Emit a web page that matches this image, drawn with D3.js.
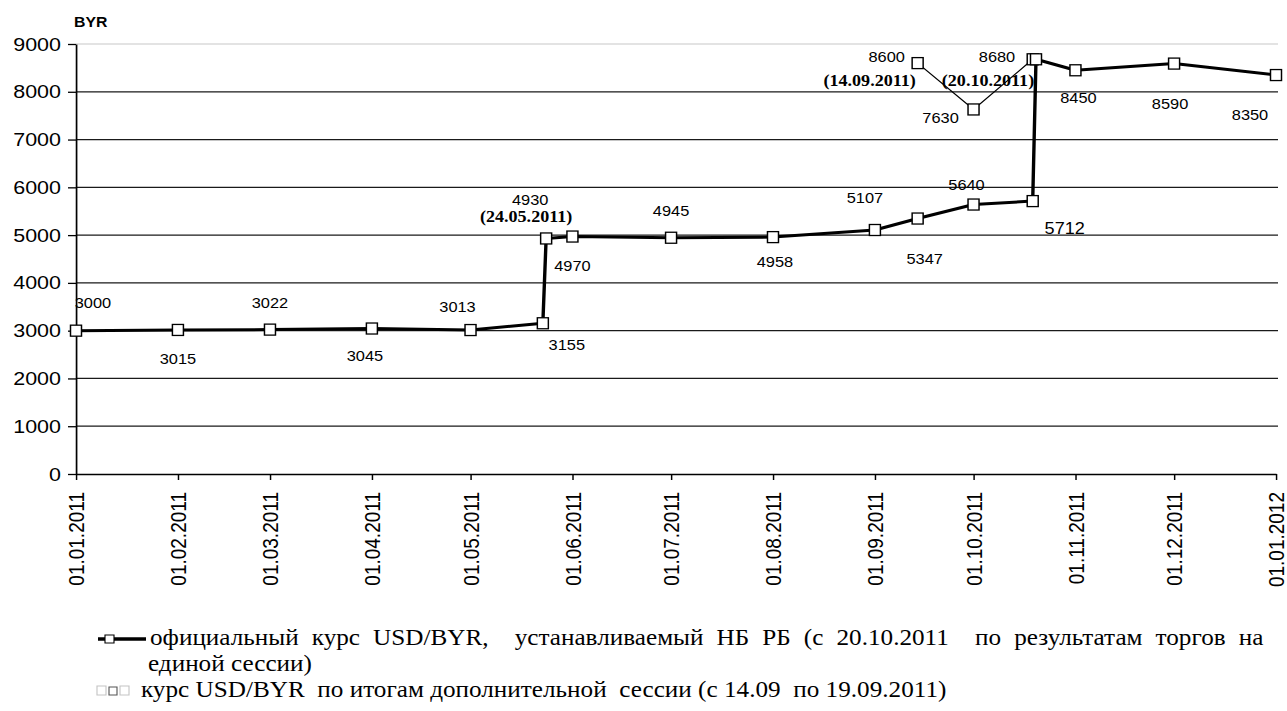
<!DOCTYPE html>
<html>
<head>
<meta charset="utf-8">
<script src="https://cdn.jsdelivr.net/npm/d3@7/dist/d3.min.js"></script>
<style>
  html, body { margin: 0; padding: 0; background: #fff; }
  svg { display: block; }
  text { white-space: pre; }
</style>
</head>
<body>
<svg id="chart" width="1287" height="711"></svg>
<script>
// Official USD/BYR rate, 2011
const mainDates  = ["01.01.2011","01.02.2011","01.03.2011","01.04.2011","01.05.2011","23.05.2011","24.05.2011",
                    "01.06.2011","01.07.2011","01.08.2011","01.09.2011","14.09.2011","01.10.2011","19.10.2011",
                    "20.10.2011","01.11.2011","01.12.2011","01.01.2012"];
const mainValues = [3000, 3015, 3022, 3045, 3013, 3155, 4930,
                    4970, 4945, 4958, 5107, 5347, 5640, 5712,
                    8680, 8450, 8590, 8350];

// Additional trading session rate
const extraDates  = ["14.09.2011", "01.10.2011", "19.10.2011"];
const extraValues = [8600, 7630, 8680];

// Bracketed date notes: [series, index]
const dateNotes = [["main", 6], ["extra", 0], ["main", 14]];

const yTicks = [0, 1000, 2000, 3000, 4000, 5000, 6000, 7000, 8000, 9000];
const xTickLabels = ["01.01.2011","01.02.2011","01.03.2011","01.04.2011","01.05.2011","01.06.2011","01.07.2011",
                     "01.08.2011","01.09.2011","01.10.2011","01.11.2011","01.12.2011","01.01.2012"];

const unitLabel = "BYR";
const legendMain1 = "официальный курс USD/BYR,  устанавливаемый НБ РБ (с 20.10.2011  по результатам торгов на";
const legendMain2 = "единой сессии)";
const legendExtra = "курс USD/BYR  по итогам дополнительной  сессии (с 14.09  по 19.09.2011)";

// Label placement relative to each point (screen px: dx, dy, font size)
const mainLabelPos = [[17,-28],[0,29],[0,-27],[-7,27],[-13,-23],[24,22],[-16,-39],
                      [0,29],[0,-27],[2,25],[-10,-32],[7,40],[-7,-20],[32,27,16],
                      [-39,-2],[3,28],[-4,40],[-26,40]];
const extraLabelPos = [[-31,-6],[-33,8],null];
const notePos = [[-20,-22],[-48,17],[-48,21]];

// Glyphs are drawn slightly wide: the whole drawing is stretched horizontally
const k = 1.13;
const sx = v => v / k;

const parse = d3.timeParse("%d.%m.%Y");
const fmt = d3.timeFormat("%d.%m.%Y");

const mainData = mainDates.map((d, i) => ({date: parse(d), value: mainValues[i]}));
const extraData = extraDates.map((d, i) => ({date: parse(d), value: extraValues[i]}));

const svg = d3.select("#chart");
const root = svg.append("g").attr("transform", `scale(${k},1)`);

const x = d3.scaleTime()
  .domain([parse("01.01.2011"), parse("01.01.2012")])
  .range([sx(76), sx(1276)]);
const y = d3.scaleLinear().domain([0, 9000]).range([474, 44]);

const sans = "'Liberation Sans', Arial, sans-serif";
const serif = "'Liberation Serif', 'Times New Roman', serif";

// Horizontal gridlines
root.append("g").selectAll("line")
  .data(yTicks.filter(v => v > 0))
  .join("line")
  .attr("x1", x.range()[0]).attr("x2", x.range()[1] + sx(2))
  .attr("y1", d => y(d)).attr("y2", d => y(d))
  .attr("stroke", d => d === 9000 ? "#c8c8c8" : "#1a1a1a")
  .attr("stroke-width", d => d === 9000 ? 1 : 1.2);

// Y axis
const yAxis = root.append("g")
  .attr("transform", `translate(${x.range()[0]},0)`)
  .call(d3.axisLeft(y).tickValues(yTicks).tickFormat(d => d).tickSize(sx(8)).tickPadding(sx(7)).tickSizeOuter(0));
yAxis.select(".domain").attr("stroke", "#000").attr("stroke-width", 1.5);
yAxis.selectAll(".tick line").attr("stroke", "#000").attr("stroke-width", 1.3);
yAxis.selectAll(".tick text")
  .attr("font-family", sans).attr("font-size", 19).attr("fill", "#000");

// X axis with rotated date labels
const xAxis = root.append("g")
  .attr("transform", `translate(0,${y(0)})`)
  .call(d3.axisBottom(x).tickValues(xTickLabels.map(parse)).tickFormat(fmt).tickSize(6).tickSizeOuter(0));
xAxis.select(".domain").attr("stroke", "#000").attr("stroke-width", 1.5);
xAxis.selectAll(".tick line").attr("stroke", "#000").attr("stroke-width", 1.3);
xAxis.selectAll(".tick text")
  .attr("font-family", sans).attr("font-size", 19).attr("fill", "#000")
  .attr("y", 0).attr("x", -18).attr("dy", "0.35em")
  .attr("transform", "rotate(-90)")
  .style("text-anchor", "end");

// Unit label
root.append("text")
  .attr("x", sx(74)).attr("y", 27)
  .attr("font-family", sans).attr("font-size", 14).attr("font-weight", "bold")
  .text(unitLabel);

// Series lines
const line = d3.line().x(d => x(d.date)).y(d => y(d.value));
root.append("path").datum(extraData)
  .attr("d", line).attr("fill", "none").attr("stroke", "#000").attr("stroke-width", 1.2);
root.append("path").datum(mainData)
  .attr("d", line).attr("fill", "none").attr("stroke", "#000").attr("stroke-width", 3)
  .attr("stroke-linejoin", "round");

// Square markers
function markers(data) {
  root.append("g").selectAll("rect")
    .data(data).join("rect")
    .attr("x", d => x(d.date) - sx(5.5)).attr("y", d => y(d.value) - 5.5)
    .attr("width", sx(11)).attr("height", 11)
    .attr("fill", "#fff").attr("stroke", "#000").attr("stroke-width", 1.3);
}
markers(extraData);
markers(mainData);

// Value labels
function valueLabels(data, pos) {
  root.append("g").selectAll("text")
    .data(data.map((d, i) => ({d, p: pos[i]})).filter(o => o.p))
    .join("text")
    .attr("x", o => x(o.d.date) + sx(o.p[0]))
    .attr("y", o => y(o.d.value) + o.p[1])
    .attr("dy", "0.35em")
    .attr("text-anchor", "middle")
    .attr("font-family", sans)
    .attr("font-size", o => o.p[2] || 14.5)
    .text(o => o.d.value);
}
valueLabels(mainData, mainLabelPos);
valueLabels(extraData, extraLabelPos);

// Bracketed date notes
root.append("g").selectAll("text")
  .data(dateNotes.map((n, i) => ({d: (n[0] === "main" ? mainData : extraData)[n[1]], p: notePos[i]})))
  .join("text")
  .attr("x", o => x(o.d.date) + sx(o.p[0]))
  .attr("y", o => y(o.d.value) + o.p[1])
  .attr("dy", "0.35em")
  .attr("text-anchor", "middle")
  .attr("font-family", serif).attr("font-weight", "bold").attr("font-size", 16)
  .text(o => "(" + fmt(o.d.date) + ")");

// Legend
const lg = root.append("g").attr("font-family", serif).attr("font-size", 22.3);
lg.append("line").attr("x1", sx(98)).attr("x2", sx(146)).attr("y1", 639).attr("y2", 639)
  .attr("stroke", "#000").attr("stroke-width", 3.5);
lg.append("rect").attr("x", sx(105)).attr("y", 635).attr("width", sx(9)).attr("height", 8)
  .attr("fill", "#fff").attr("stroke", "#000").attr("stroke-width", 1);
lg.append("text").attr("x", sx(150)).attr("y", 645).attr("word-spacing", 6).text(legendMain1);
lg.append("text").attr("x", sx(148)).attr("y", 671).text(legendMain2);
[[97, "#c4c4c4", 9], [109, "#555", 8], [120, "#c4c4c4", 9]].forEach(([px, c, s]) => {
  lg.append("rect").attr("x", sx(px)).attr("y", 697 - s - 2).attr("width", sx(s)).attr("height", s)
    .attr("fill", "#fff").attr("stroke", c).attr("stroke-width", 1);
});
lg.append("text").attr("x", sx(141)).attr("y", 697).text(legendExtra);
</script>
</body>
</html>
